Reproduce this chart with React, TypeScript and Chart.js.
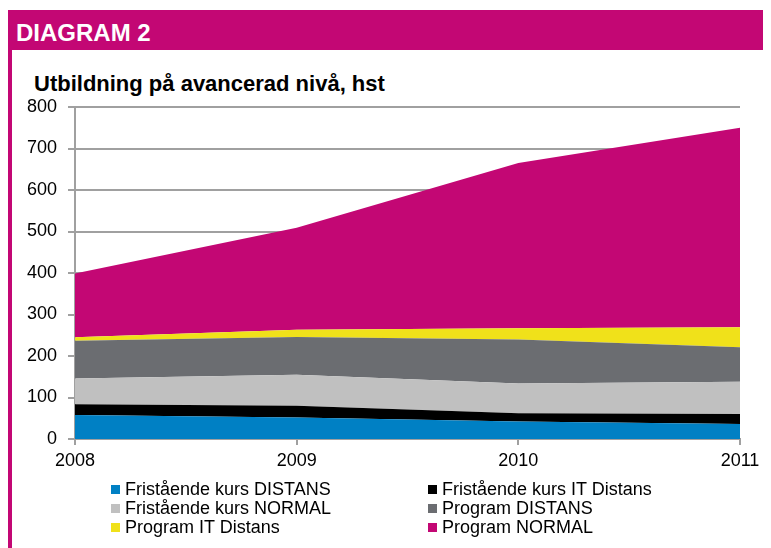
import React, { useEffect, useRef } from "react";
import { Chart, registerables } from "chart.js";

Chart.register(...registerables);

const years = ["2008", "2009", "2010", "2011"];
const seriesNames = [
  "Fristående kurs DISTANS",
  "Fristående kurs IT Distans",
  "Fristående kurs NORMAL",
  "Program DISTANS",
  "Program IT Distans",
  "Program NORMAL",
];
const fristaendeDistans = [58, 52, 42, 36];
const fristaendeITDistans = [26, 28, 20, 24];
const fristaendeNormal = [62, 75, 72, 78];
const programDistans = [91, 91, 106, 83];
const programITDistans = [8, 17, 27, 48];
const programNormal = [154, 246, 398, 481];
const seriesColors = ["#0080c4", "#000000", "#c0c0c0", "#6b6d71", "#f0e11a", "#c30774"];
const yTicks = [0, 100, 200, 300, 400, 500, 600, 700, 800];

const MAGENTA = "#c30774";
const FONT = "'Liberation Sans', Arial, sans-serif";

export default function App() {
  const ref = useRef<HTMLCanvasElement | null>(null);

  useEffect(() => {
    if (!ref.current) return;
    const values = [
      fristaendeDistans,
      fristaendeITDistans,
      fristaendeNormal,
      programDistans,
      programITDistans,
      programNormal,
    ];
    const chart = new Chart(ref.current, {
      type: "line",
      data: {
        labels: years,
        datasets: values.map((v, i) => ({
          label: seriesNames[i],
          data: v,
          backgroundColor: seriesColors[i],
          borderColor: seriesColors[i],
          borderWidth: 0,
          pointRadius: 0,
          fill: i === 0 ? "origin" : "-1",
          tension: 0,
        })),
      },
      options: {
        animation: false,
        responsive: false,
        maintainAspectRatio: false,
        layout: { padding: { left: 0, right: 31, top: 12, bottom: 0 } },
        plugins: { legend: { display: false }, tooltip: { enabled: false } },
        scales: {
          x: {
            type: "category",
            offset: false,
            grid: {
              drawOnChartArea: false,
              drawTicks: true,
              tickLength: 6,
              color: "#a0a0a0",
              lineWidth: 2,
            },
            border: { color: "#a0a0a0", width: 2 },
            ticks: {
              color: "#000",
              font: { family: FONT, size: 18 },
              padding: 5,
              maxRotation: 0,
              autoSkip: false,
            },
            afterFit: (s: any) => {
              s.height = 41;
              s.paddingLeft = 0;
              s.paddingRight = 0;
            },
          },
          y: {
            stacked: true,
            min: 0,
            max: 800,
            afterBuildTicks: (s: any) => {
              s.ticks = yTicks.map((v) => ({ value: v }));
            },
            grid: {
              color: "#a0a0a0",
              lineWidth: 2,
              tickLength: 7,
              drawTicks: true,
            },
            border: { color: "#a0a0a0", width: 2 },
            ticks: {
              color: "#000",
              font: { family: FONT, size: 18 },
              padding: 11,
            },
            afterFit: (s: any) => {
              s.width = 67;
              s.paddingTop = 0;
              s.paddingBottom = 0;
            },
          },
        },
      },
    });
    return () => chart.destroy();
  }, []);

  const legendRows = [
    [0, 1],
    [2, 3],
    [4, 5],
  ];

  return (
    <div
      style={{
        position: "relative",
        marginLeft: -8,
        marginTop: -8,
        width: 771,
        height: 548,
        overflow: "hidden",
        background: "#fff",
        fontFamily: FONT,
      }}
    >
      <div style={{ position: "absolute", left: 8, top: 10, width: 4, height: 538, background: MAGENTA }} />
      <div style={{ position: "absolute", left: 8, top: 10, width: 763, height: 40, background: MAGENTA }} />
      <div
        style={{
          position: "absolute",
          left: 16,
          top: 21,
          fontSize: 24,
          lineHeight: "24px",
          fontWeight: "bold",
          color: "#fff",
          whiteSpace: "nowrap",
        }}
      >
        DIAGRAM 2
      </div>
      <div
        style={{
          position: "absolute",
          left: 34,
          top: 73,
          fontSize: 22,
          lineHeight: "22px",
          fontWeight: "bold",
          color: "#000",
          whiteSpace: "nowrap",
        }}
      >
        Utbildning på avancerad nivå, hst
      </div>
      <canvas
        ref={ref}
        width={763}
        height={385}
        style={{ position: "absolute", left: 8, top: 95, width: 763, height: 385 }}
      />
      {legendRows.map((row, r) =>
        row.map((idx, c) => (
          <div
            key={idx}
            style={{
              position: "absolute",
              left: c === 0 ? 111 : 428,
              top: 489 + r * 19 - 10,
              height: 20,
              display: "flex",
              alignItems: "center",
              whiteSpace: "nowrap",
              fontSize: 18,
              color: "#000",
            }}
          >
            <span
              style={{
                display: "inline-block",
                width: 9,
                height: 9,
                background: seriesColors[idx],
                marginRight: 5,
              }}
            />
            <span>{seriesNames[idx]}</span>
          </div>
        ))
      )}
    </div>
  );
}
